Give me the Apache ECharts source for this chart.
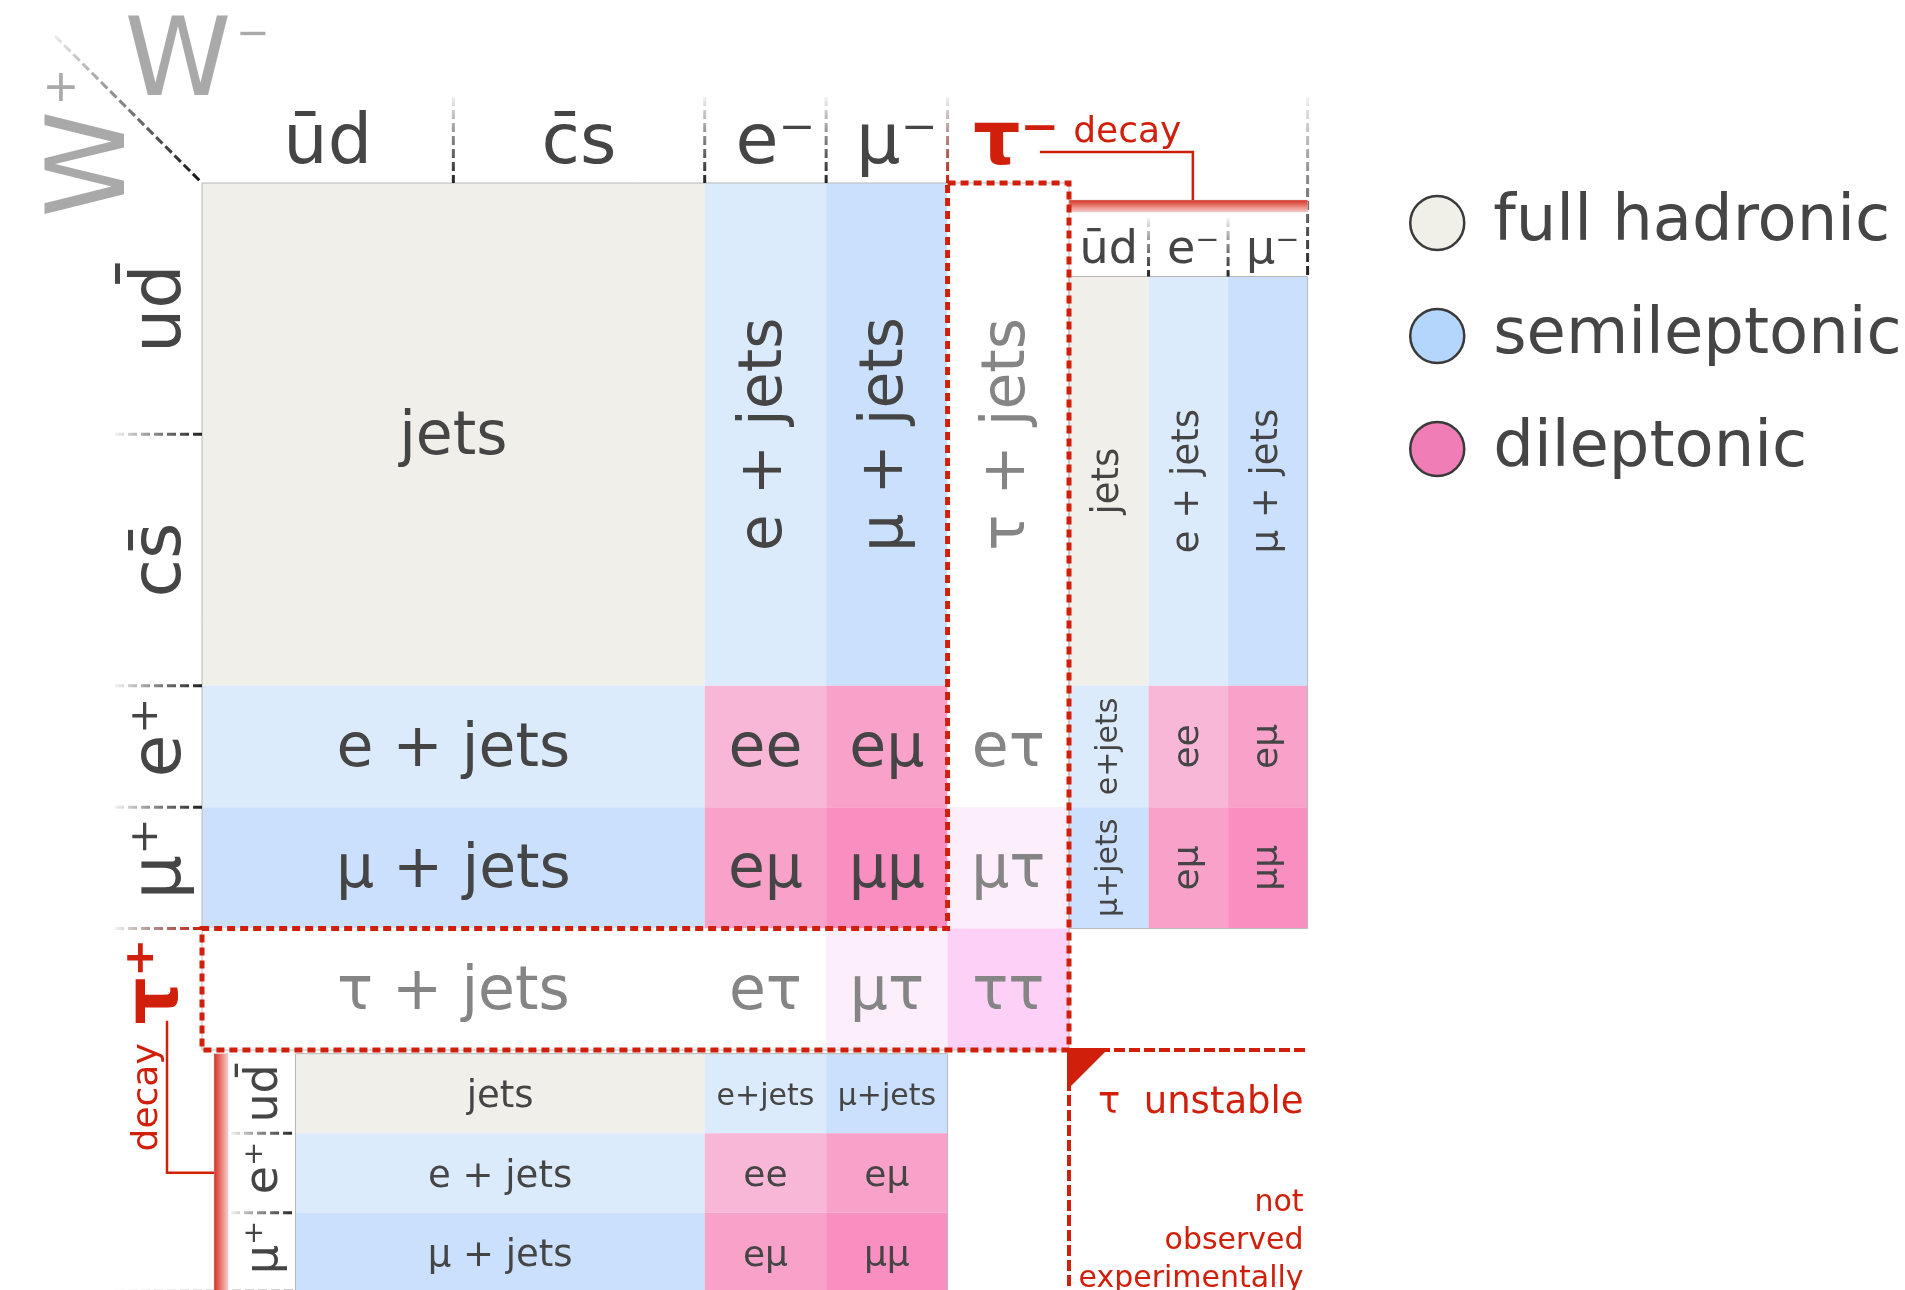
<!DOCTYPE html>
<html><head><meta charset="utf-8">
<script src="https://cdn.jsdelivr.net/npm/echarts@6/dist/echarts.min.js"></script>
<style>html,body{margin:0;padding:0;background:#fff}#chart{width:1905px;height:1290px}</style>
</head><body><div id="chart"></div>
<script>
// ---------------- data ----------------
// W- decays (columns) and W+ decays (rows) with their relative widths
const wMinusDecays = ['ūd', 'c̄s', 'e⁻', 'μ⁻', 'τ⁻'];
const wPlusDecays  = ['ud̄', 'cs̄', 'e⁺', 'μ⁺', 'τ⁺'];
const decayWeights = [2.07, 2.07, 1, 1, 1];
// final-state groups (ūd + c̄s merged into hadronic)
const channelGroups = ['hadronic', 'e', 'μ', 'τ'];
const mainChannels = [
  ['jets',     'e + jets', 'μ + jets', 'τ + jets'],
  ['e + jets', 'ee',       'eμ',       'eτ'],
  ['μ + jets', 'eμ',       'μμ',       'μτ'],
  ['τ + jets', 'eτ',       'μτ',       'ττ']
];
// tau decays
const tauMinusDecays = ['ūd', 'e⁻', 'μ⁻'];
const tauPlusDecays  = ['ud̄', 'e⁺', 'μ⁺'];
const tauDecayWeights = [1, 1, 1];
// rows: W+ → hadronic, e, μ ; columns: τ- → ūd, e, μ
const tauRightChannels = [
  ['jets',   'e + jets', 'μ + jets'],
  ['e+jets', 'ee',       'eμ'],
  ['μ+jets', 'eμ',       'μμ']
];
// rows: τ+ → ud̄, e, μ ; columns: W- → hadronic, e, μ
const tauBottomChannels = [
  ['jets',     'e+jets', 'μ+jets'],
  ['e + jets', 'ee',     'eμ'],
  ['μ + jets', 'eμ',     'μμ']
];
const legendNames = ['full hadronic', 'semileptonic', 'dileptonic'];
const tauNote = ['τ  unstable', 'not', 'observed', 'experimentally'];
const decayWord = 'decay';
const wBosons = ['W', '−', '+'];

// ---------------- styling / layout helpers ----------------
const FONT = '"DejaVu Sans"';
const RED = '#d0200c';
const DARK = '#454545';
const GREY_TXT = '#858585';
const cellColor = {
  'jets': '#f0efe9',
  'e + jets': '#dcebfc', 'e+jets': '#dcebfc',
  'μ + jets': '#cae0fc', 'μ+jets': '#cae0fc',
  'ee': '#f9b7d7', 'eμ': '#f8a2c9', 'μμ': '#f98fc1',
  'τ + jets': '#ffffff', 'eτ': '#ffffff', 'μτ': '#fdeefb', 'ττ': '#fdd1f7'
};
const legendColors = ['#f0efe8', '#b4d5fc', '#f07db5'];

const cum = a => a.reduce((acc, v) => { acc.push(acc[acc.length - 1] + v); return acc; }, [0]);
const E = cum(decayWeights);
const TOTAL = E[E.length - 1];
const groupSpan = [[E[0], E[2]], [E[2], E[3]], [E[3], E[4]], [E[4], E[5]]];
const SUB = 0.655;        // axis units per tau-decay sub cell
const SUB_START = 0.77;   // start of merged hadronic band in the tau sub-tables
const GAP = 0.03;
const T = cum(tauDecayWeights).map(v => v * SUB);
const lepSpans = [[SUB_START, E[2]], groupSpan[1], groupSpan[2]];
const tables = [mainChannels, tauRightChannels, tauBottomChannels];

function cellBox(t, c, r) {
  if (t === 0) return { x: groupSpan[c], y: groupSpan[r] };
  if (t === 1) return { x: [TOTAL + T[c], TOTAL + T[c + 1]], y: lepSpans[r] };
  return { x: lepSpans[c], y: [TOTAL + GAP + T[r], TOTAL + GAP + T[r + 1]] };
}
function classOf(lab) {
  if (lab === 'jets') return 'full hadronic';
  if (lab.indexOf('τ') >= 0) return 'τ channels';
  if (lab.indexOf('jets') >= 0) return 'semileptonic';
  return 'dileptonic';
}
function fontSizeOf(t, lab) {
  if (t === 0) return 60;
  if (lab.indexOf('+jets') >= 0) return 30;
  if (lab.indexOf('jets') >= 0) return 37;
  return 36;
}
const hasSup = s => /[⁻⁺]$/.test(s);
const seriesData = { 'full hadronic': [], 'semileptonic': [], 'dileptonic': [], 'τ channels': [] };
tables.forEach((tab, t) => tab.forEach((row, r) => row.forEach((lab, c) => seriesData[classOf(lab)].push([t, c, r]))));

function renderCell(params, api) {
  const t = api.value(0), c = api.value(1), r = api.value(2);
  const lab = tables[t][r][c];
  const b = cellBox(t, c, r);
  const p0 = api.coord([b.x[0], b.y[0]]), p1 = api.coord([b.x[1], b.y[1]]);
  const w = p1[0] - p0[0], h = p1[1] - p0[1];
  const vertical = (t === 0 && r === 0 && c > 0) || t === 1;
  return { type: 'group', children: [
    { type: 'rect', shape: { x: p0[0], y: p0[1], width: w, height: h }, style: { fill: cellColor[lab] } },
    { type: 'text', x: p0[0] + w / 2, y: p0[1] + h / 2 + (vertical ? 0 : 4), rotation: vertical ? Math.PI / 2 : 0,
      style: { text: lab, fill: lab.indexOf('τ') >= 0 ? GREY_TXT : DARK, font: fontSizeOf(t, lab) + 'px ' + FONT,
               align: 'center', verticalAlign: 'middle' } }
  ]};
}

function grad(x, y, x2, y2, c0, c1) {
  return { type: 'linear', x: x, y: y, x2: x2, y2: y2, global: true,
           colorStops: [{ offset: 0, color: c0 }, { offset: 1, color: c1 }] };
}

function renderDecor(params, api) {
  const C = (x, y) => api.coord([x, y]);
  const o = C(0, 0), left = o[0], top = o[1];
  const ch = [];
  const txt = (x, y, s, font, fill, rot, align) => ch.push({ type: 'text', x: x, y: y, rotation: rot || 0,
    style: { text: s, fill: fill, font: (typeof font === 'number' ? font + 'px' : font) + ' ' + FONT,
             align: align || 'center', verticalAlign: 'middle' } });
  const sepV = (x, y0, y1, dark) => ch.push({ type: 'line', shape: { x1: x, y1: y0, x2: x, y2: y1 },
    style: { stroke: grad(x, y0, x, y1, 'rgba(0,0,0,0.05)', dark), lineWidth: 3, lineDash: [9, 4] } });
  const sepH = (y, x0, x1, dark) => ch.push({ type: 'line', shape: { x1: x0, y1: y, x2: x1, y2: y },
    style: { stroke: grad(x0, y, x1, y, 'rgba(0,0,0,0.05)', dark), lineWidth: 3, lineDash: [9, 4] } });

  const rightEnd = C(TOTAL + T[3], 0)[0];
  const bottomEnd = C(0, TOTAL + GAP + T[3])[1];
  const subTop = C(0, SUB_START)[1];
  const subLeft = C(SUB_START, 0)[0];

  // table outlines
  ch.push({ type: 'rect', shape: { x: left, y: top, width: C(TOTAL, 0)[0] - left, height: C(0, TOTAL)[1] - top },
            style: { fill: 'none', stroke: '#b8b8b8', lineWidth: 1 } });
  ch.push({ type: 'rect', shape: { x: C(TOTAL, 0)[0], y: subTop, width: rightEnd - C(TOTAL, 0)[0], height: C(0, E[4])[1] - subTop },
            style: { fill: 'none', stroke: '#b8b8b8', lineWidth: 1 } });
  ch.push({ type: 'rect', shape: { x: subLeft, y: C(0, TOTAL + GAP)[1], width: C(E[4], 0)[0] - subLeft, height: bottomEnd - C(0, TOTAL + GAP)[1] },
            style: { fill: 'none', stroke: '#b8b8b8', lineWidth: 1 } });

  // main column / row headers (base letter centred, superscript hanging out)
  for (let i = 0; i < wMinusDecays.length; i++) {
    const tau = i === 4;
    const sx = hasSup(wMinusDecays[i]) ? (tau ? 8 : 10) : 0;
    const cx = C((E[i] + E[i + 1]) / 2, 0)[0];
    txt(cx + sx, top - 38, wMinusDecays[i], tau ? 'bold 74px' : 70, tau ? RED : DARK);
    const sy = hasSup(wPlusDecays[i]) ? (tau ? 8 : 9) : 0;
    const cy = C(0, (E[i] + E[i + 1]) / 2)[1];
    txt(left - 40 - (tau ? 4 : 0), cy - sy, wPlusDecays[i], tau ? 'bold 74px' : 70, tau ? RED : DARK, Math.PI / 2);
  }
  for (let i = 1; i <= 4; i++) {
    const dark = i === 4 ? RED : '#222';
    sepV(C(E[i], 0)[0], top - 86, top, dark);
    sepH(C(0, E[i])[1], left - 87, left, dark);
  }
  sepV(rightEnd, top - 86, subTop, '#222');
  sepH(bottomEnd - 1, left - 87, subLeft, '#222');

  // tau sub-table headers
  for (let j = 0; j < 3; j++) {
    const s = hasSup(tauMinusDecays[j]) ? 5 : 0;
    txt(C(TOTAL + (T[j] + T[j + 1]) / 2, 0)[0] + s, top + 68, tauMinusDecays[j], 46, DARK);
    txt(left + 63, C(0, TOTAL + GAP + (T[j] + T[j + 1]) / 2)[1] - s, tauPlusDecays[j], 46, DARK, Math.PI / 2);
  }
  for (let j = 1; j <= 2; j++) {
    sepV(C(TOTAL + T[j], 0)[0], top + 35, subTop, '#222');
    sepH(C(0, TOTAL + GAP + T[j])[1], left + 29, subLeft, '#222');
  }

  // red decay bars
  ch.push({ type: 'rect', shape: { x: C(TOTAL, 0)[0], y: top + 17, width: rightEnd - C(TOTAL, 0)[0], height: 12 },
            style: { fill: grad(0, top + 17, 0, top + 29, '#d63020', '#f8caca'), stroke: '#c8c8c8', lineWidth: 0.5 } });
  ch.push({ type: 'rect', shape: { x: left + 12, y: C(0, TOTAL + GAP)[1], width: 14, height: bottomEnd - C(0, TOTAL + GAP)[1] },
            style: { fill: grad(left + 12, 0, left + 26, 0, '#d63020', '#f8caca'), stroke: '#c8c8c8', lineWidth: 0.5 } });
  // decay brackets
  ch.push({ type: 'polyline', shape: { points: [[C(6.9, 0)[0], top - 31], [C(8.16, 0)[0], top - 31], [C(8.16, 0)[0], top + 17]] },
            style: { stroke: RED, lineWidth: 2.5, fill: 'none' } });
  ch.push({ type: 'polyline', shape: { points: [[left - 35, C(0, 6.9)[1]], [left - 35, C(0, 8.15)[1]], [left + 12, C(0, 8.15)[1]]] },
            style: { stroke: RED, lineWidth: 2.5, fill: 'none' } });
  txt(C(7.62, 0)[0], top - 50, decayWord, 36, RED);
  txt(left - 54, C(0, 7.53)[1], decayWord, 36, RED, Math.PI / 2);

  // red dashed outline of tau row / column
  const poly = [[E[4], 0], [TOTAL, 0], [TOTAL, TOTAL], [0, TOTAL], [0, E[4]], [E[4], E[4]]].map(p => C(p[0], p[1]));
  ch.push({ type: 'polygon', shape: { points: poly }, style: { fill: 'none', stroke: RED, lineWidth: 5, lineDash: [8, 5] } });
  // tau unstable corner
  const corner = C(TOTAL, TOTAL);
  ch.push({ type: 'line', shape: { x1: corner[0], y1: corner[1], x2: rightEnd, y2: corner[1] },
            style: { stroke: RED, lineWidth: 4, lineDash: [11, 4] } });
  ch.push({ type: 'line', shape: { x1: corner[0], y1: corner[1], x2: corner[0], y2: bottomEnd + 10 },
            style: { stroke: RED, lineWidth: 4, lineDash: [11, 4] } });
  ch.push({ type: 'polygon', shape: { points: [[corner[0] - 2, corner[1] - 2], [corner[0] + 40, corner[1] - 2], [corner[0] - 2, corner[1] + 40]] },
            style: { fill: RED } });
  txt(rightEnd - 4, corner[1] + 53, tauNote[0], 37, RED, 0, 'right');
  txt(rightEnd - 4, corner[1] + 153, tauNote[1], 30, RED, 0, 'right');
  txt(rightEnd - 4, corner[1] + 191, tauNote[2], 30, RED, 0, 'right');
  txt(rightEnd - 4, corner[1] + 229, tauNote[3], 30, RED, 0, 'right');

  // W labels and diagonal
  ch.push({ type: 'line', shape: { x1: left - 147, y1: top - 147, x2: left, y2: top },
            style: { stroke: grad(left - 147, top - 147, left, top, 'rgba(0,0,0,0.08)', '#111'), lineWidth: 3, lineDash: [9, 4] } });
  txt(left - 24, top - 116, wBosons[0], 108, '#a9a9a9');
  txt(left + 51, top - 147, wBosons[1], 40, '#a9a9a9');
  txt(left - 106, top - 19, wBosons[0], 108, '#a9a9a9', Math.PI / 2);
  txt(left - 141, top - 93, wBosons[2], 44, '#a9a9a9');
  return { type: 'group', children: ch };
}

const chart = echarts.init(document.getElementById('chart'), null, { renderer: 'canvas' });
const cellSeries = Object.keys(seriesData).map(name => ({
  name: name, type: 'custom', coordinateSystem: 'cartesian2d', silent: true, z: 2,
  data: seriesData[name], renderItem: renderCell, encode: { x: 1, y: 2 }
}));
chart.setOption({
  animation: false,
  backgroundColor: '#ffffff',
  grid: { left: 202, top: 183, width: 867, height: 867, containLabel: false },
  xAxis: { type: 'value', min: 0, max: TOTAL, show: false },
  yAxis: { type: 'value', min: 0, max: TOTAL, inverse: true, show: false },
  legend: {
    orient: 'vertical', left: 1404, top: 186, itemWidth: 54, itemHeight: 54, itemGap: 49,
    selectedMode: false, icon: 'circle',
    textStyle: { fontSize: 64, fontFamily: 'DejaVu Sans', color: '#454545', padding: [0, 0, 0, 24] },
    data: legendNames.map((n, i) => ({ name: n, itemStyle: { color: legendColors[i], borderColor: '#3a3a3a', borderWidth: 2.5 } }))
  },
  series: cellSeries.concat([{
    name: 'layout', type: 'custom', coordinateSystem: 'cartesian2d', silent: true, z: 5,
    data: [[0, 0, 0]], renderItem: renderDecor, encode: { x: 1, y: 2 }
  }])
});
</script></body></html>
